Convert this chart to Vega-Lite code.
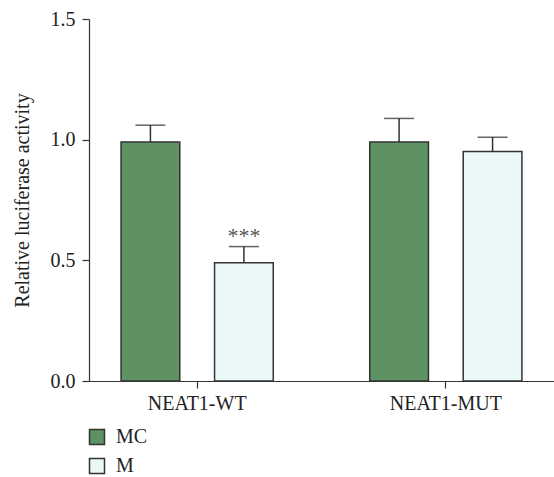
{
  "$schema": "https://vega.github.io/schema/vega-lite/v6.json",
  "width": 465,
  "height": 362,
  "autosize": {"type": "none"},
  "padding": {"left": 89, "top": 19, "right": 0, "bottom": 96},
  "background": "white",
  "config": {
    "font": "Liberation Serif",
    "view": {"stroke": null},
    "axis": {"labelFont": "Liberation Serif", "titleFont": "Liberation Serif", "labelColor": "#222", "titleColor": "#222", "domainColor": "#333", "tickColor": "#333", "domainWidth": 1.2, "tickWidth": 1.2, "grid": false},
    "legend": {"labelFont": "Liberation Serif", "labelColor": "#222"}
  },
  "data": {
    "values": [
      {"group": "NEAT1-WT", "series": "MC", "value": 0.99, "upper": 1.06, "sig": ""},
      {"group": "NEAT1-WT", "series": "M", "value": 0.49, "upper": 0.557, "sig": "***"},
      {"group": "NEAT1-MUT", "series": "MC", "value": 0.99, "upper": 1.088, "sig": ""},
      {"group": "NEAT1-MUT", "series": "M", "value": 0.951, "upper": 1.01, "sig": ""}
    ]
  },
  "encoding": {
    "x": {
      "field": "group", "type": "nominal", "sort": ["NEAT1-WT", "NEAT1-MUT"],
      "scale": {"paddingInner": 0.3, "paddingOuter": 0.085},
      "axis": {"title": null, "labelAngle": 0, "labelFontSize": 20, "tickSize": 7, "labelPadding": 5}
    },
    "xOffset": {
      "field": "series", "type": "nominal", "sort": ["MC", "M"],
      "scale": {"paddingInner": 0.372, "paddingOuter": 0.117}
    }
  },
  "layer": [
    {
      "mark": {"type": "bar", "stroke": "#333", "strokeWidth": 1.5},
      "encoding": {
        "y": {
          "field": "value", "type": "quantitative",
          "scale": {"domain": [0, 1.5], "nice": false},
          "axis": {"title": "Relative luciferase activity", "values": [0, 0.5, 1, 1.5], "format": ".1f", "labelFontSize": 20, "titleFontSize": 20, "titleFontWeight": "normal", "tickSize": 7, "labelPadding": 7, "titlePadding": 18}
        },
        "color": {
          "field": "series", "type": "nominal", "sort": ["MC", "M"],
          "scale": {"domain": ["MC", "M"], "range": ["#5e9163", "#eaf9f8"]},
          "legend": {"title": null, "orient": "none", "legendX": -2, "legendY": 408, "direction": "vertical", "symbolType": "square", "symbolSize": 225, "symbolStrokeColor": "#333", "symbolStrokeWidth": 1.5, "symbolOpacity": 1, "labelFontSize": 20, "rowPadding": 7, "labelOffset": 9}
        }
      }
    },
    {
      "mark": {"type": "rule", "color": "#333", "strokeWidth": 1.5},
      "encoding": {
        "y": {"field": "value", "type": "quantitative"},
        "y2": {"field": "upper"}
      }
    },
    {
      "mark": {"type": "tick", "color": "#222", "thickness": 1.5, "size": 30, "orient": "horizontal"},
      "encoding": {
        "y": {"field": "upper", "type": "quantitative"}
      }
    },
    {
      "mark": {"type": "text", "fontSize": 22, "dy": -4, "color": "#555", "baseline": "alphabetic"},
      "encoding": {
        "y": {"field": "upper", "type": "quantitative"},
        "text": {"field": "sig"}
      }
    }
  ]
}
